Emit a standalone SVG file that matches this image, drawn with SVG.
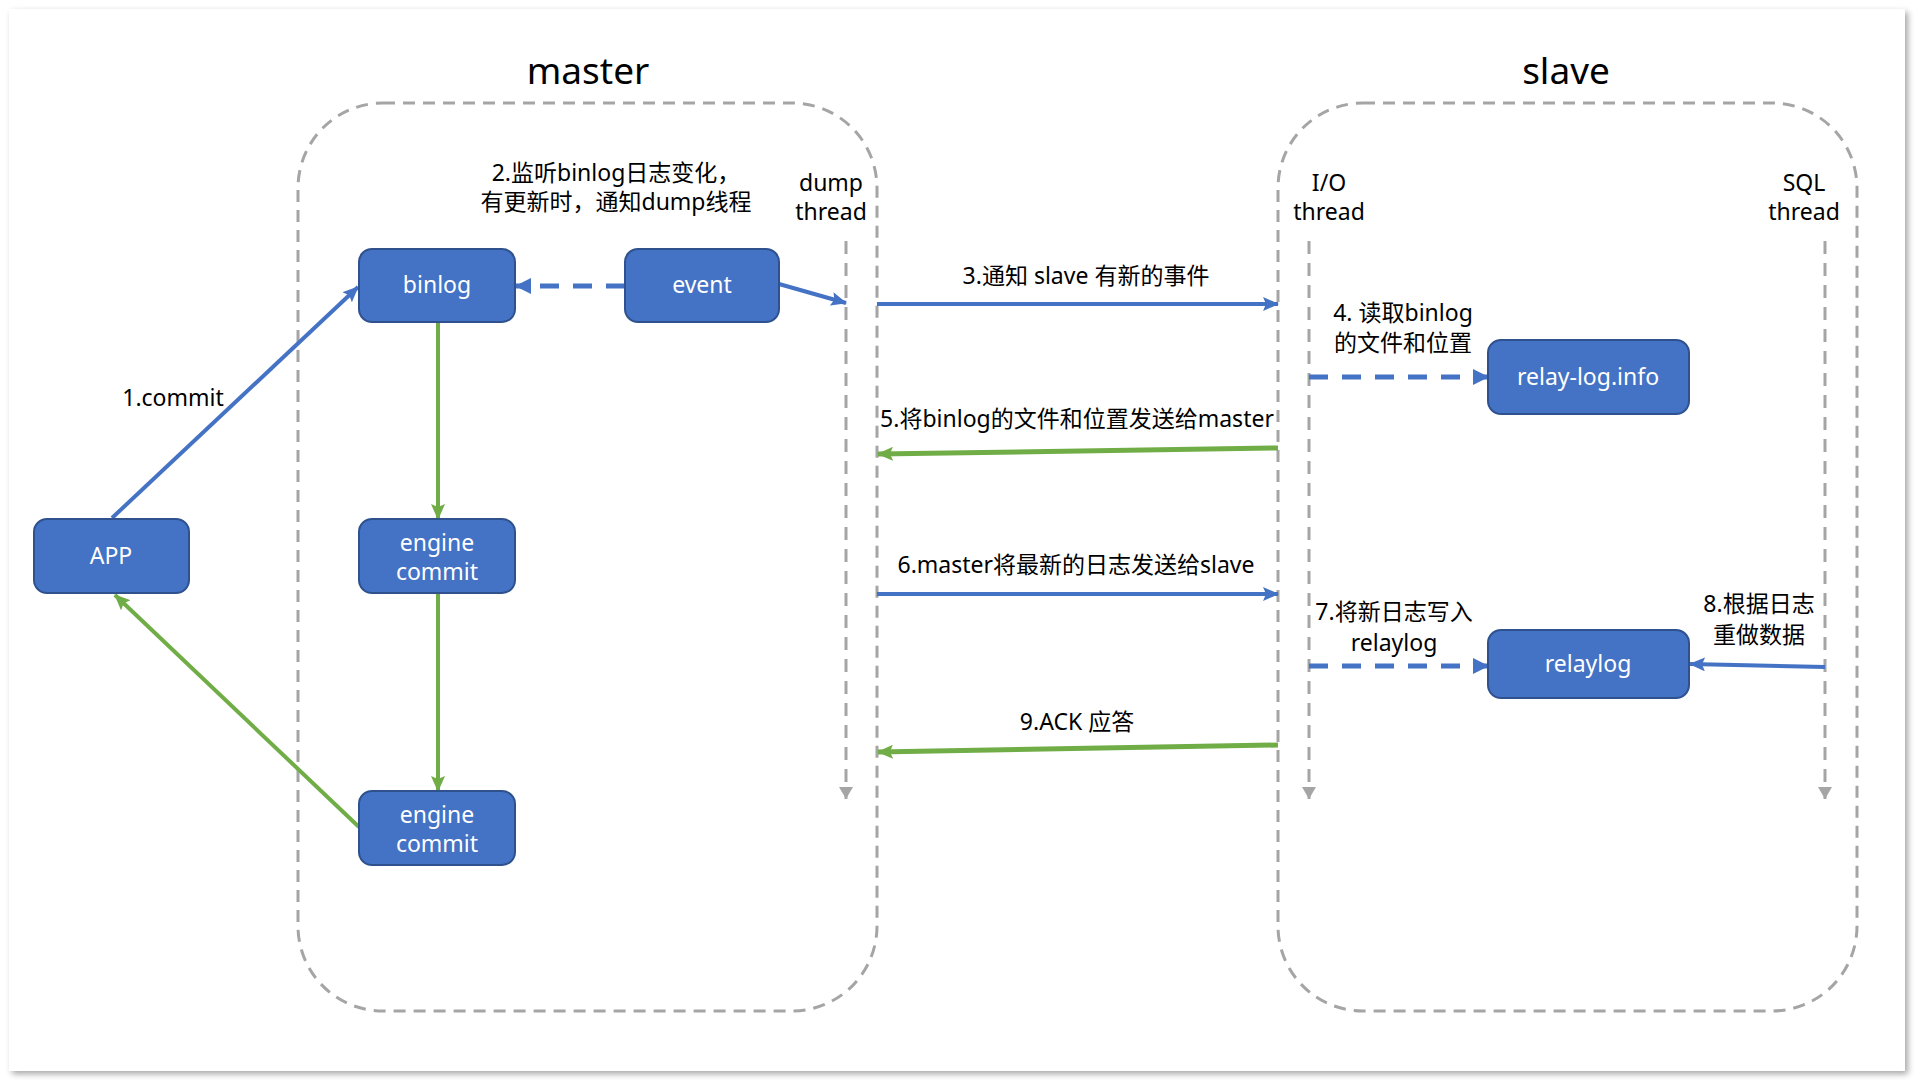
<svg xmlns="http://www.w3.org/2000/svg" width="1917" height="1082" viewBox="0 0 1917 1082">
  <defs>
    <filter id="shadow" x="-2%" y="-2%" width="104%" height="104%">
      <feGaussianBlur in="SourceAlpha" stdDeviation="3"/>
      <feOffset dx="3" dy="3" result="b"/>
      <feComponentTransfer><feFuncA type="linear" slope="0.35"/></feComponentTransfer>
      <feMerge><feMergeNode/><feMergeNode in="SourceGraphic"/></feMerge>
    </filter>
    <marker id="arrBlue" markerUnits="userSpaceOnUse" markerWidth="16" markerHeight="14" refX="15" refY="7" orient="auto">
      <path d="M0,0 L16,7 L0,14 L3,7 z" fill="#4472C4"/>
    </marker>
    <marker id="arrBlueD" markerUnits="userSpaceOnUse" markerWidth="16" markerHeight="16" refX="15" refY="8" orient="auto">
      <path d="M0,0 L16,8 L0,16 z" fill="#4472C4"/>
    </marker>
    <marker id="arrGreen" markerUnits="userSpaceOnUse" markerWidth="16" markerHeight="14" refX="15" refY="7" orient="auto">
      <path d="M0,0 L16,7 L0,14 L3,7 z" fill="#70AD47"/>
    </marker>
    <marker id="arrGray" markerUnits="userSpaceOnUse" markerWidth="14" markerHeight="14" refX="12" refY="7" orient="auto">
      <path d="M0,0 L12,7 L0,14 z" fill="#A5A5A5"/>
    </marker>
  </defs>
  <style>
    .container { fill: none; stroke: #A5A5A5; stroke-width: 3; stroke-dasharray: 12 8; }
    .thread { fill: none; stroke: #A5A5A5; stroke-width: 3; stroke-dasharray: 13 9; marker-end: url(#arrGray); }
    .node rect { fill: #4472C4; stroke: #2F528F; stroke-width: 2; }
    .node text { fill: #FFFFFF; font-family: "Noto Sans", "Noto Sans CJK SC", sans-serif; font-size: 23px; text-anchor: middle; }
    .lbl { fill: #000000; font-family: "Noto Sans", "Noto Sans CJK SC", sans-serif; font-size: 23px; text-anchor: middle; }
    .title { fill: #000000; font-family: "Noto Sans", "Noto Sans CJK SC", sans-serif; font-size: 37px; text-anchor: middle; }
    .blue { fill: none; stroke: #4472C4; stroke-width: 4; marker-end: url(#arrBlue); }
    .blueDash { fill: none; stroke: #4472C4; stroke-width: 5; stroke-dasharray: 19 14; marker-end: url(#arrBlueD); }
    .green { fill: none; stroke: #70AD47; stroke-width: 4; marker-end: url(#arrGreen); }
  </style>

  <rect x="0" y="0" width="1917" height="1082" fill="#FFFFFF"/>
  <rect x="9" y="9" width="1896" height="1062" fill="#FFFFFF" filter="url(#shadow)"/>

  <g id="containers">
    <rect id="master-box" class="container" x="298" y="103" width="579" height="908" rx="85" ry="85"/>
    <rect id="slave-box" class="container" x="1278" y="103" width="579" height="908" rx="85" ry="85"/>
    <text class="title" x="588" y="84">master</text>
    <text class="title" x="1566" y="84">slave</text>
  </g>

  <g id="threads">
    <line class="thread" x1="846" y1="241" x2="846" y2="799"/>
    <line class="thread" x1="1309" y1="241" x2="1309" y2="799"/>
    <line class="thread" x1="1825" y1="241" x2="1825" y2="799"/>
    <text class="lbl" x="831" y="191">dump</text>
    <text class="lbl" x="831" y="220">thread</text>
    <text class="lbl" x="1329" y="191">I/O</text>
    <text class="lbl" x="1329" y="220">thread</text>
    <text class="lbl" x="1804" y="191">SQL</text>
    <text class="lbl" x="1804" y="220">thread</text>
  </g>

  <g id="connectors">
    <line class="blue" x1="112" y1="518" x2="358" y2="287"/>
    <line class="blueDash" x1="625" y1="286" x2="516" y2="286"/>
    <line class="blue" x1="779" y1="284" x2="846" y2="303"/>
    <line class="blue" x1="877" y1="304" x2="1278" y2="304"/>
    <line class="blueDash" x1="1309" y1="377" x2="1488" y2="377"/>
    <line class="green" style="stroke-width:5" x1="1278" y1="448" x2="878" y2="454"/>
    <line class="blue" x1="877" y1="594" x2="1278" y2="594"/>
    <line class="blueDash" x1="1309" y1="666" x2="1488" y2="666"/>
    <line class="blue" x1="1825" y1="667" x2="1690" y2="664"/>
    <line class="green" style="stroke-width:5" x1="1278" y1="745" x2="878" y2="752"/>
    <line class="green" x1="438" y1="322" x2="438" y2="519"/>
    <line class="green" x1="438" y1="593" x2="438" y2="791"/>
    <line class="green" x1="359" y1="827" x2="115" y2="595"/>

    <text class="lbl" x="173" y="406">1.commit</text>
    <text class="lbl" x="616" y="181">2.监听binlog日志变化，</text>
    <text class="lbl" x="616" y="210">有更新时，通知dump线程</text>
    <text class="lbl" x="1086" y="284">3.通知 slave 有新的事件</text>
    <text class="lbl" x="1403" y="321">4. 读取binlog</text>
    <text class="lbl" x="1403" y="351">的文件和位置</text>
    <text class="lbl" x="1077" y="427">5.将binlog的文件和位置发送给master</text>
    <text class="lbl" x="1076" y="573">6.master将最新的日志发送给slave</text>
    <text class="lbl" x="1394" y="620">7.将新日志写入</text>
    <text class="lbl" x="1394" y="651">relaylog</text>
    <text class="lbl" x="1759" y="612">8.根据日志</text>
    <text class="lbl" x="1759" y="643">重做数据</text>
    <text class="lbl" x="1077" y="730">9.ACK 应答</text>
  </g>

  <g id="node-binlog" class="node">
    <rect x="359" y="249" width="156" height="73" rx="13"/>
    <text x="437" y="293">binlog</text>
  </g>
  <g id="node-event" class="node">
    <rect x="625" y="249" width="154" height="73" rx="13"/>
    <text x="702" y="293">event</text>
  </g>
  <g id="node-app" class="node">
    <rect x="34" y="519" width="155" height="74" rx="13"/>
    <text x="111" y="564">APP</text>
  </g>
  <g id="node-engine-commit-1" class="node">
    <rect x="359" y="519" width="156" height="74" rx="13"/>
    <text x="437" y="551">engine</text>
    <text x="437" y="580">commit</text>
  </g>
  <g id="node-engine-commit-2" class="node">
    <rect x="359" y="791" width="156" height="74" rx="13"/>
    <text x="437" y="823">engine</text>
    <text x="437" y="852">commit</text>
  </g>
  <g id="node-relay-log-info" class="node">
    <rect x="1488" y="340" width="201" height="74" rx="13"/>
    <text x="1588" y="385">relay-log.info</text>
  </g>
  <g id="node-relaylog" class="node">
    <rect x="1488" y="630" width="201" height="68" rx="13"/>
    <text x="1588" y="672">relaylog</text>
  </g>
</svg>
